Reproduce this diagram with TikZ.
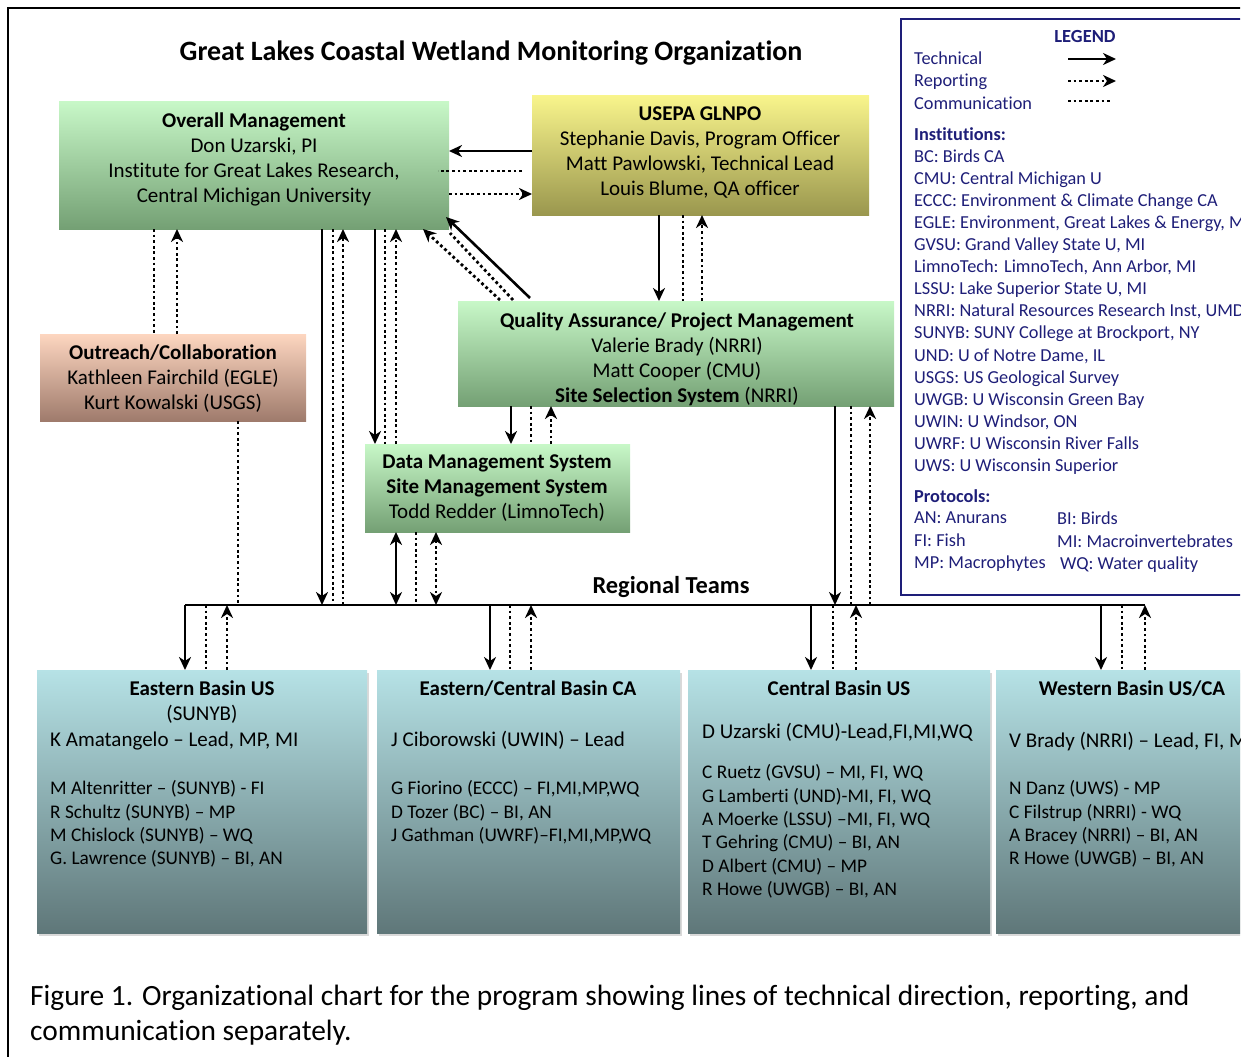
\documentclass[tikz,border=0pt]{standalone}
\usepackage{fontspec}
\setmainfont{Carlito}[Ligatures=NoCommon]
\usetikzlibrary{arrows.meta,shadings,shadows,calc}
\definecolor{gtop}{HTML}{C8F8C8}
\definecolor{gbot}{HTML}{74A074}
\definecolor{ytop}{HTML}{F9F58C}
\definecolor{ybot}{HTML}{9A974E}
\definecolor{ptop}{HTML}{FDD6C0}
\definecolor{pbot}{HTML}{9F7B6C}
\definecolor{ctop}{HTML}{B6E2E6}
\definecolor{cbot}{HTML}{5F7779}
\definecolor{navy}{HTML}{1E1E78}
\tikzset{
  tip/.tip={Stealth[length=13pt,width=12pt,inset=4pt]},
  tech/.style={line width=2.6pt,-tip},
  techboth/.style={line width=2.6pt,tip-tip},
  rep/.style={line width=2.8pt,dash pattern=on 2.8pt off 2.8pt,-tip},
  repboth/.style={line width=2.8pt,dash pattern=on 2.8pt off 2.8pt,tip-tip},
  comm/.style={line width=2.8pt,dash pattern=on 2.8pt off 2.8pt},
  box/.style={inner sep=0pt,outer sep=0pt,draw=none},
  gbox/.style={box,top color=gtop,bottom color=gbot},
  ybox/.style={box,top color=ytop,bottom color=ybot},
  pbox/.style={box,top color=ptop,bottom color=pbot},
  cbox/.style={box,top color=ctop,bottom color=cbot,drop shadow={opacity=0.3,shadow xshift=2pt,shadow yshift=-3pt}},
  bt/.style={inner sep=0pt,font=\fontsize{21}{25}\selectfont,align=center,anchor=north},
  hd/.style={inner sep=0pt,font=\fontsize{21}{25}\selectfont\bfseries,anchor=base},
  lead/.style={inner sep=0pt,font=\fontsize{21}{25}\selectfont,anchor=base west},
  lst/.style={inner sep=0pt,font=\fontsize{19.3}{23.3}\selectfont,align=left,anchor=north west},
  lg/.style={inner sep=0pt,text=navy,font=\fontsize{18.3}{22.1}\selectfont},
}
\begin{document}
\begin{tikzpicture}[x=1pt,y=-1pt]
\useasboundingbox (0,0) rectangle (1256,1057);
\begin{scope}
\clip (0,0) rectangle (1240,1057);
% outer frame
\draw[line width=2.5pt] (8,1080) -- (8,8) -- (1280,8);
% title
\node[inner sep=0pt,font=\fontsize{28}{32}\selectfont\bfseries,anchor=base] (title) at (491,61) {Great Lakes Coastal Wetland Monitoring Organization};

% boxes
\node[gbox,minimum width=390pt,minimum height=128pt] (om) at (254,165) {};
\node[ybox,minimum width=337pt,minimum height=120pt] (ep) at (700.5,155) {};
\node[pbox,minimum width=266pt,minimum height=87pt] (out) at (173,377.5) {};
\node[gbox,minimum width=436pt,minimum height=105pt] (qa) at (676,353.5) {};
\node[gbox,minimum width=265pt,minimum height=88pt] (dm) at (497.5,488) {};
\node[cbox,minimum width=330pt,minimum height=263pt] (b1) at (202,801.5) {};
\node[cbox,minimum width=303pt,minimum height=263pt] (b2) at (528.5,801.5) {};
\node[cbox,minimum width=302pt,minimum height=263pt] (b3) at (839,801.5) {};
\node[cbox,minimum width=272pt,minimum height=263pt] (b4) at (1132,801.5) {};

% box texts
\node[bt] (omt) at (254,113) {\textbf{Overall Management}\\Don Uzarski, PI\\Institute for Great Lakes Research,\\Central Michigan University};
\node[bt] (ept) at (700,107) {\textbf{USEPA GLNPO}\\Stephanie Davis, Program Officer\\Matt Pawlowski, Technical Lead\\Louis Blume, QA officer};
\node[bt] (outt) at (173,345) {\textbf{Outreach/Collaboration}\\Kathleen Fairchild (EGLE)\\Kurt Kowalski (USGS)};
\node[bt] (qat) at (677,313) {\textbf{Quality Assurance/ Project Management}\\Valerie Brady (NRRI)\\Matt Cooper (CMU)\\\textbf{Site Selection System} (NRRI)};
\node[bt] (dmt) at (497,455) {\textbf{Data Management System}\\\textbf{Site Management System}\\Todd Redder (LimnoTech)};

\node[inner sep=0pt,font=\fontsize{24.4}{28}\selectfont\bfseries,anchor=base] (rt) at (671,593) {Regional Teams};

% regional boxes text
\node[hd] (b1h) at (202,695) {Eastern Basin US};
\node[inner sep=0pt,font=\fontsize{21}{25}\selectfont,anchor=base] (b1s) at (202,720) {(SUNYB)};
\node[lead] (b1l) at (50,746) {K Amatangelo – Lead, MP, MI};
\node[lst] (b1x) at (50,780.5) {M Altenritter – (SUNYB) - FI\\R Schultz (SUNYB) – MP\\M Chislock (SUNYB) – WQ\\G. Lawrence (SUNYB) – BI, AN};

\node[hd] (b2h) at (528,695) {Eastern/Central Basin CA};
\node[lead] (b2l) at (391,746) {J Ciborowski (UWIN) – Lead};
\node[lst] (b2x) at (391,780.5) {G Fiorino (ECCC) – FI,MI,MP,WQ\\D Tozer (BC) – BI, AN\\J Gathman (UWRF)–FI,MI,MP,WQ};

\node[hd] (b3h) at (839,695) {Central Basin US};
\node[lead] (b3l) at (702,738) {D Uzarski (CMU)-Lead,FI,MI,WQ};
\node[lst] (b3x) at (702,764.5) {C Ruetz (GVSU) – MI, FI, WQ\\G Lamberti (UND)-MI, FI, WQ\\A Moerke (LSSU) –MI, FI, WQ\\T Gehring (CMU) – BI, AN\\D Albert (CMU) – MP\\R Howe (UWGB) – BI, AN};

\node[hd] (b4h) at (1132,695) {Western Basin US/CA};
\node[lead] (b4l) at (1009,747) {V Brady (NRRI) – Lead, FI, M};
\node[lst] (b4x) at (1009,780.5) {N Danz (UWS) - MP\\C Filstrup (NRRI) - WQ\\A Bracey (NRRI) – BI, AN\\R Howe (UWGB) – BI, AN};

% legend
\draw[navy,line width=2pt] (1280,19) -- (901,19) -- (901,595) -- (1280,595);
\node[lg,font=\fontsize{18.5}{22.1}\selectfont\bfseries,anchor=base] (legend) at (1085,43) {LEGEND};
\node[lg,anchor=base west] (ltech) at (914,65) {Technical};
\node[lg,anchor=base west] (lrep) at (914,87) {Reporting};
\node[lg,anchor=base west] (lcomm) at (914,109) {Communication};
\coordinate (la1) at (1068,59); \coordinate (la2) at (1116,59);
\coordinate (lb1) at (1068,81); \coordinate (lb2) at (1116,81);
\coordinate (lc1) at (1068,101); \coordinate (lc2) at (1111,101);
\draw[tech] (la1) -- (la2);
\draw[rep] (lb1) -- (lb2);
\draw[comm] (lc1) -- (lc2);
\node[lg,align=left,anchor=north west] (inst) at (914,127) {\textbf{Institutions:}\\BC: Birds CA\\CMU: Central Michigan U\\ECCC: Environment \& Climate Change CA\\EGLE: Environment, Great Lakes \& Energy, M\\GVSU: Grand Valley State U, MI\\LimnoTech: LimnoTech, Ann Arbor, MI\\LSSU: Lake Superior State U, MI\\NRRI: Natural Resources Research Inst, UMD\\SUNYB: SUNY College at Brockport, NY\\UND: U of Notre Dame, IL\\USGS: US Geological Survey\\UWGB: U Wisconsin Green Bay\\UWIN: U Windsor, ON\\UWRF: U Wisconsin River Falls\\UWS: U Wisconsin Superior};
\node[lg,font=\fontsize{18.3}{22.1}\selectfont\bfseries,anchor=base west] (prot) at (914,502) {Protocols:};
\node[lg,align=left,anchor=north west] (prot1) at (914,512) {AN: Anurans\\FI: Fish\\MP: Macrophytes};
\node[lg,align=left,anchor=north west] (prot2) at (1057,512) {BI: Birds\\MI: Macroinvertebrates\\\hspace{3pt}WQ: Water quality};

% caption
\node[inner sep=0pt,font=\fontsize{29.4}{35}\selectfont,anchor=base west] (cap1) at (30,1005) {Figure 1. Organizational chart for the program showing lines of technical direction, reporting, and};
\node[inner sep=0pt,font=\fontsize{29.4}{35}\selectfont,anchor=base west] (cap2) at (30,1040) {communication separately.};

% bar
\coordinate (barL) at (185,605);
\coordinate (barR) at (1145,605);
\draw[line width=2.8pt] (barL) -- (barR);

% USEPA <-> Overall
\draw[tech] ($(ep.west)+(0,-4)$) -- ($(om.east|-ep.west)+(0,-4)$);
\draw[comm] ($(ep.west)+(-10,16)$) -- ($(om.east|-ep.west)+(-11,16)$);
\draw[rep] ($(om.east)+(0,29)$) -- ($(ep.west|-om.east)+(0,29)$);
% Outreach <-> Overall
\draw[comm] ($(om.south)+(-100,0)$) -- ($(out.north-|om.south)+(-100,0)$);
\draw[rep] ($(out.north)+(4,0)$) -- ($(om.south-|out.north)+(4,0)$);
% Overall -> bar
\draw[tech] ($(om.south)+(68,0)$) -- ($(barL-|om.south)+(68,0)$);
\draw[comm] ($(om.south)+(79,0)$) -- ($(barL-|om.south)+(79,0)$);
\draw[rep] ($(barL-|om.south)+(89,0)$) -- ($(om.south)+(89,0)$);
% Overall -> Data
\draw[tech] ($(om.south)+(121,0)$) -- ($(dm.north-|om.south)+(121,0)$);
\draw[comm] ($(om.south)+(131,0)$) -- ($(dm.north-|om.south)+(131,0)$);
\draw[rep] ($(dm.north-|om.south)+(142,0)$) -- ($(om.south)+(142,0)$);
% QA -> Overall (diagonal)
\draw[tech] ($(qa.north)+(-146,-3)$) -- ($(om.south east)+(-3,-12)$);
\draw[comm] ($(qa.north)+(-163,-1)$) -- ($(om.south east)+(1,4)$);
\draw[rep] ($(qa.north)+(-176,-1)$) -- ($(om.south east)+(-26,0)$);
% USEPA -> QA
\draw[tech] ($(ep.south)+(-41.5,0)$) -- ($(qa.north-|ep.south)+(-41.5,0)$);
\draw[comm] ($(ep.south)+(-17.5,0)$) -- ($(qa.north-|ep.south)+(-17.5,0)$);
\draw[rep] ($(qa.north-|ep.south)+(1.5,0)$) -- ($(ep.south)+(1.5,0)$);
% QA -> Data
\draw[tech] ($(qa.south)+(-165,0)$) -- ($(dm.north-|qa.south)+(-165,0)$);
\draw[comm] ($(qa.south)+(-145,0)$) -- ($(dm.north-|qa.south)+(-145,0)$);
\draw[rep] ($(dm.north-|qa.south)+(-125,0)$) -- ($(qa.south)+(-125,0)$);
% QA -> bar
\draw[tech] ($(qa.south)+(159,0)$) -- ($(barL-|qa.south)+(159,0)$);
\draw[comm] ($(qa.south)+(175,0)$) -- ($(barL-|qa.south)+(175,0)$);
\draw[rep] ($(barL-|qa.south)+(194,0)$) -- ($(qa.south)+(194,0)$);
% Data <-> bar
\draw[techboth] ($(dm.south)+(-101.5,0)$) -- ($(barL-|dm.south)+(-101.5,0)$);
\draw[comm] ($(dm.south)+(-81.5,0)$) -- ($(barL-|dm.south)+(-81.5,0)$);
\draw[repboth] ($(dm.south)+(-61.5,0)$) -- ($(barL-|dm.south)+(-61.5,0)$);
% Outreach -> bar
\draw[comm] ($(out.south)+(65,0)$) -- ($(barL-|out.south)+(65,0)$);
% bar -> regional boxes
\draw[tech] (barL) -- (barL|-b1.north);
\draw[comm] ($(barL-|b1.north)+(4,0)$) -- ($(b1.north)+(4,0)$);
\draw[rep] ($(b1.north)+(25,0)$) -- ($(barL-|b1.north)+(25,0)$);
\draw[tech] ($(barL-|b2.north)+(-38.5,0)$) -- ($(b2.north)+(-38.5,0)$);
\draw[comm] ($(barL-|b2.north)+(-18.5,0)$) -- ($(b2.north)+(-18.5,0)$);
\draw[rep] ($(b2.north)+(2.5,0)$) -- ($(barL-|b2.north)+(2.5,0)$);
\draw[tech] ($(barL-|b3.north)+(-28,0)$) -- ($(b3.north)+(-28,0)$);
\draw[comm] ($(barL-|b3.north)+(-6,0)$) -- ($(b3.north)+(-6,0)$);
\draw[rep] ($(b3.north)+(17,0)$) -- ($(barL-|b3.north)+(17,0)$);
\draw[tech] ($(barL-|b4.north)+(-31,0)$) -- ($(b4.north)+(-31,0)$);
\draw[comm] ($(barL-|b4.north)+(-10,0)$) -- ($(b4.north)+(-10,0)$);
\draw[rep] (barR|-b4.north) -- (barR);
\end{scope}
\end{tikzpicture}
\end{document}
